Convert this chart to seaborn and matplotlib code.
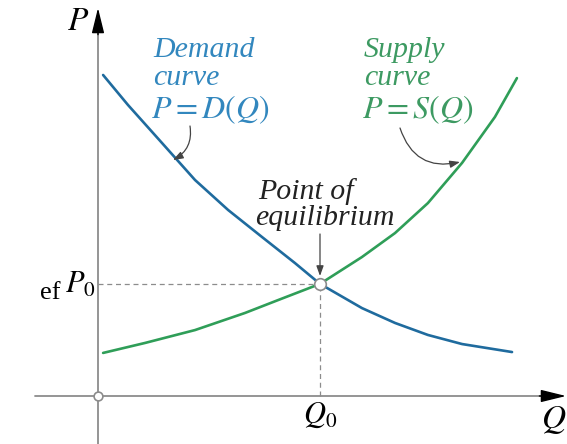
import matplotlib

matplotlib.use("Agg")
import matplotlib.pyplot as plt
import pandas as pd
import seaborn as sns

# Values (units: Q0 = 10)
demand_q = [0.23, 1.35, 2.88, 4.37, 5.86, 7.39, 8.87, 10.0, 11.89, 13.38, 14.86, 16.4, 18.65]
demand_p = [14.46, 13.11, 11.4, 9.73, 8.38, 7.16, 5.99, 5.05, 3.96, 3.29, 2.75, 2.34, 1.98]
supply_q = [0.23, 2.12, 4.37, 6.62, 8.11, 10.0, 11.89, 13.38, 14.86, 16.4, 17.88, 18.87]
supply_p = [1.94, 2.39, 2.97, 3.74, 4.32, 5.05, 6.26, 7.34, 8.69, 10.5, 12.57, 14.32]
eq_q = 10.0
eq_p = 5.05

W, H = 567, 444
PX = 22.2  # pixels per unit
OX, OY = 98, 396  # origin in pixels

BLUE_LINE = "#1f6b9e"
BLUE_TEXT = "#3287be"
GREEN_LINE = "#2f9e58"
GREEN_TEXT = "#3d9a62"
GRAY = "#8c8c8c"


def frac(x, y):
    """Pixel position -> axes fraction."""
    return x / W, 1 - y / H


def data(x, y):
    """Pixel position -> data units."""
    return (x - OX) / PX, (OY - y) / PX


sns.set_theme(style="white")
plt.rcParams["font.family"] = ["Liberation Serif", "DejaVu Serif"]
plt.rcParams["mathtext.fontset"] = "stix"

fig = plt.figure(figsize=(W / 100, H / 100), dpi=100)
ax = fig.add_axes([0, 0, 1, 1])
ax.set_xlim(data(0, 0)[0], data(W, 0)[0])
ax.set_ylim(data(0, H)[1], data(0, 0)[1])
ax.set_axis_off()

# axes
x0, _ = data(35, 0)
xt, _ = data(566, 0)
_, yt = data(0, 8)
_, yb = data(0, H)
ax.plot([x0, xt - 0.5], [0, 0], color=GRAY, lw=1.3, zorder=1)
ax.plot([0, 0], [yb, yt - 0.5], color=GRAY, lw=1.3, zorder=1)
head = dict(arrowstyle="-|>,head_length=1.3,head_width=0.32", color="black", lw=1, shrinkA=0, shrinkB=0)
ax.annotate("", xy=(xt, 0), xytext=(xt - 1.2, 0), arrowprops=head)
ax.annotate("", xy=(0, yt), xytext=(0, yt - 1.2), arrowprops=head)

# guides to equilibrium
ax.plot([0, eq_q], [eq_p, eq_p], color=GRAY, lw=0.9, ls=(0, (4, 3)), zorder=1)
ax.plot([eq_q, eq_q], [0, eq_p], color=GRAY, lw=0.9, ls=(0, (4, 3)), zorder=1)

df = pd.concat([
    pd.DataFrame({"Q": demand_q, "P": demand_p, "curve": "demand"}),
    pd.DataFrame({"Q": supply_q, "P": supply_p, "curve": "supply"}),
])
sns.lineplot(data=df, x="Q", y="P", hue="curve", palette={"demand": BLUE_LINE, "supply": GREEN_LINE},
             sort=False, lw=1.9, legend=False, ax=ax, zorder=2,
             solid_joinstyle="round", solid_capstyle="round")

ax.scatter([eq_q], [eq_p], s=70, facecolor="white", edgecolor=GRAY, lw=1.2, zorder=4)
ax.scatter([0], [0], s=40, facecolor="white", edgecolor=GRAY, lw=1.2, zorder=4)

# labels
txt = dict(transform=ax.transAxes, style="italic", va="center", ha="left")
ax.text(*frac(153, 50), "Demand", color=BLUE_TEXT, fontsize=21.5, **txt)
ax.text(*frac(153, 78), "curve", color=BLUE_TEXT, fontsize=21.5, **txt)
ax.text(*frac(151, 110), "$P = D(Q)$", color=BLUE_TEXT, fontsize=23, **txt)
ax.text(*frac(364, 50), "Supply", color=GREEN_TEXT, fontsize=21.5, **txt)
ax.text(*frac(364, 78), "curve", color=GREEN_TEXT, fontsize=21.5, **txt)
ax.text(*frac(362, 110), "$P = S(Q)$", color=GREEN_TEXT, fontsize=23, **txt)
ax.text(*frac(258, 192), "Point of", color="#222222", fontsize=21.5, **txt)
ax.text(*frac(255, 218), "equilibrium", color="#222222", fontsize=21.5, **txt)

ax.text(*frac(78, 22), "$P$", color="black", fontsize=24, transform=ax.transAxes, ha="center", va="center")
ax.text(*frac(80, 285), "$P_0$", color="black", fontsize=22, transform=ax.transAxes, ha="center", va="center")
ax.text(*frac(320, 415), "$Q_0$", color="black", fontsize=22, transform=ax.transAxes, ha="center", va="center")
ax.text(*frac(566, 420), "$Q$", color="black", fontsize=24, transform=ax.transAxes, ha="right", va="center")
ax.text(*frac(40, 293), "ef", color="black", fontsize=19, transform=ax.transAxes, ha="left", va="center")

# pointer arrows
ptr = dict(arrowstyle="-|>,head_length=0.5,head_width=0.18", color="#444444", lw=0.9, shrinkA=0, shrinkB=0)
ax.annotate("", xy=data(173, 160), xytext=data(190, 126),
            arrowprops=dict(ptr, connectionstyle="arc3,rad=-0.35"))
ax.annotate("", xy=data(460, 162), xytext=data(400, 128),
            arrowprops=dict(ptr, connectionstyle="arc3,rad=0.45"))
ax.annotate("", xy=data(320, 276), xytext=data(320, 234), arrowprops=ptr)

fig.savefig("out.png", dpi=100)
